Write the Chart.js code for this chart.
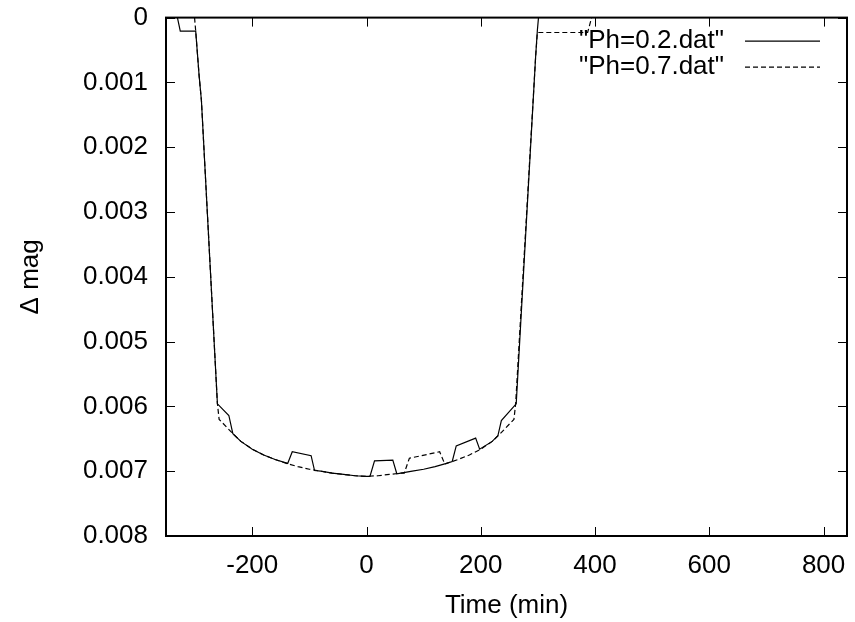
<!DOCTYPE html>
<html>
<head>
<meta charset="utf-8">
<script src="https://cdn.jsdelivr.net/npm/chart.js@4"></script>
<style>
  html, body { margin: 0; padding: 0; background: #fff; overflow: hidden; }
  #wrap { width: 855px; height: 622px; overflow: hidden; }
  #lcChart { display: block; margin-top: -16px; }
</style>
</head>
<body>
<div id="wrap"><canvas id="lcChart" width="855" height="638"></canvas></div>
<script>
// series names
var seriesNames = ['"Ph=0.2.dat"', '"Ph=0.7.dat"'];

// Ph=0.2 (solid)
var timePh02 = [-331, -326, -299, -293, -289, -261, -241, -234, -220, -200, -180, -160, -138, -130, -97, -91, -80, -60, -40, -20, 0, 6, 14, 46, 53, 60, 80, 100, 120, 140, 150, 157, 191, 198, 220, 230, 236, 262, 296, 299, 301];
var magPh02  = [0, 0.00021, 0.00021, 0.0009, 0.00128, 0.00596, 0.00614, 0.00642, 0.00654, 0.00666, 0.00675, 0.00682, 0.00688, 0.0067, 0.00676, 0.00699, 0.007, 0.00703, 0.00705, 0.00707, 0.00708, 0.00708, 0.00684, 0.00683, 0.00704, 0.00703, 0.007, 0.00697, 0.00693, 0.00688, 0.00685, 0.00661, 0.00649, 0.00666, 0.00654, 0.00645, 0.00622, 0.00596, 0.0006, 0.0002, 0];

// Ph=0.7 (dashed)
var timePh07 = [-301, -299, -293, -289, -261, -258, -234, -220, -200, -180, -160, -140, -120, -100, -80, -60, -40, -20, 0, 20, 40, 60, 66, 75, 128, 137, 140, 160, 180, 200, 220, 233, 258, 261, 296, 299, 387, 394];
var magPh07  = [0, 0.00021, 0.0009, 0.00128, 0.00596, 0.0062, 0.00642, 0.00654, 0.00666, 0.00675, 0.00682, 0.00688, 0.00693, 0.00697, 0.007, 0.00703, 0.00705, 0.00707, 0.00708, 0.00707, 0.00705, 0.00703, 0.00703, 0.0068, 0.0067, 0.00689, 0.00688, 0.00682, 0.00675, 0.00666, 0.00654, 0.00643, 0.0062, 0.00596, 0.0006, 0.00023, 0.00023, 0];

// axes
var xMin = -351, xMax = 841;
var xTicks = [-200, 0, 200, 400, 600, 800];
var yMin = 0, yMax = 0.008, yStep = 0.001;

var FONT = 'Liberation Sans, Arial, sans-serif';

function toPoints(xs, ys) {
    return xs.map(function (x, i) { return { x: x, y: ys[i] }; });
}

// gnuplot style frame, inward ticks and key
var gnuplotFrame = {
    id: 'gnuplotFrame',
    afterDraw: function (chart) {
        var ctx = chart.ctx;
        var a = chart.chartArea;
        var xs = chart.scales.x, ys = chart.scales.y;
        var tl = 9;
        ctx.save();
        ctx.strokeStyle = '#000';
        ctx.lineWidth = 1;
        ctx.beginPath();
        xs.ticks.forEach(function (t) {
            var px = Math.round(xs.getPixelForValue(t.value)) + 0.5;
            ctx.moveTo(px, a.bottom); ctx.lineTo(px, a.bottom - tl);
            ctx.moveTo(px, a.top); ctx.lineTo(px, a.top + tl);
        });
        ys.ticks.forEach(function (t) {
            var py = Math.round(ys.getPixelForValue(t.value)) + 0.5;
            ctx.moveTo(a.left, py); ctx.lineTo(a.left + tl, py);
            ctx.moveTo(a.right, py); ctx.lineTo(a.right - tl, py);
        });
        ctx.stroke();
        ctx.lineWidth = 2;
        ctx.strokeRect(a.left, a.top, a.right - a.left, a.bottom - a.top);

        // key
        ctx.font = '26px ' + FONT;
        ctx.fillStyle = '#000';
        ctx.textAlign = 'right';
        ctx.textBaseline = 'middle';
        chart.data.datasets.forEach(function (ds, i) {
            var yy = a.top + 23 + i * 26;
            ctx.fillText(ds.label, a.right - 123, yy);
            ctx.beginPath();
            ctx.lineWidth = 1.2;
            ctx.setLineDash(ds.borderDash || []);
            ctx.moveTo(a.right - 102, yy + 0.5);
            ctx.lineTo(a.right - 27, yy + 0.5);
            ctx.stroke();
        });
        ctx.restore();
    }
};

var ctx = document.getElementById('lcChart').getContext('2d');
var chart = new Chart(ctx, {
    type: 'line',
    data: {
        datasets: [
            {
                label: seriesNames[0],
                data: toPoints(timePh02, magPh02),
                borderColor: '#000',
                borderWidth: 1.2,
                pointRadius: 0,
                tension: 0,
                fill: false
            },
            {
                label: seriesNames[1],
                data: toPoints(timePh07, magPh07),
                borderColor: '#000',
                borderWidth: 1.2,
                borderDash: [5, 3],
                pointRadius: 0,
                tension: 0,
                fill: false
            }
        ]
    },
    options: {
        responsive: false,
        animation: false,
        layout: { padding: { left: 0, right: 8, top: 1, bottom: 0 } },
        plugins: {
            legend: { display: false },
            tooltip: { enabled: false }
        },
        scales: {
            x: {
                type: 'linear',
                min: xMin,
                max: xMax,
                grid: { display: false, drawTicks: false },
                border: { display: false },
                afterBuildTicks: function (s) {
                    s.ticks = xTicks.map(function (v) { return { value: v }; });
                },
                ticks: {
                    color: '#000',
                    font: { family: FONT, size: 26 },
                    padding: 14,
                    maxRotation: 0,
                    callback: function (v) { return String(v); }
                },
                title: {
                    display: true,
                    text: 'Time (min)',
                    color: '#000',
                    font: { family: FONT, size: 26 },
                    padding: { top: 4, bottom: 1 }
                },
                afterFit: function (s) {
                    s.height = 86;
                    s.paddingLeft = 0;
                    s.paddingRight = 0;
                }
            },
            y: {
                type: 'linear',
                reverse: true,
                min: yMin,
                max: yMax,
                grid: { display: false, drawTicks: false },
                border: { display: false },
                ticks: {
                    stepSize: yStep,
                    color: '#000',
                    font: { family: FONT, size: 26 },
                    padding: 18,
                    callback: function (v) { return String(+v.toFixed(3)); }
                },
                title: {
                    display: true,
                    text: 'Δ mag',
                    color: '#000',
                    font: { family: FONT, size: 26 },
                    padding: { top: 15, bottom: 0 }
                },
                afterFit: function (s) { s.width = 166; }
            }
        }
    },
    plugins: [gnuplotFrame]
});
</script>
</body>
</html>
